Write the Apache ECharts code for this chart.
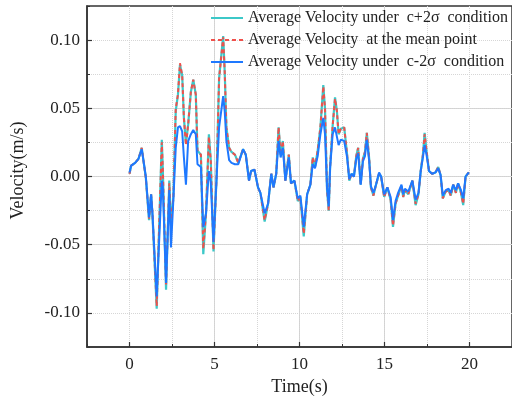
<!DOCTYPE html>
<html><head><meta charset="utf-8">
<script src="https://cdn.jsdelivr.net/npm/echarts@6/dist/echarts.min.js"></script>
<style>html,body{margin:0;padding:0;background:#fff}#c{width:512px;height:401px}</style>
</head><body><div id="c"></div>
<script>
const time = [0.00,0.10,0.33,0.53,0.72,0.96,1.15,1.27,1.35,1.60,1.90,1.96,2.15,2.34,2.44,2.58,2.72,2.85,2.97,3.10,3.20,3.32,3.45,3.61,3.75,3.90,4.00,4.20,4.34,4.50,4.67,4.78,4.94,5.12,5.27,5.51,5.60,5.70,5.86,6.00,6.20,6.40,6.68,6.84,7.03,7.15,7.35,7.56,7.70,7.95,8.15,8.34,8.47,8.63,8.77,8.89,9.02,9.17,9.37,9.50,9.70,9.90,10.05,10.25,10.45,10.64,10.78,10.91,11.07,11.23,11.40,11.50,11.62,11.72,11.80,11.95,12.09,12.20,12.30,12.43,12.63,12.80,12.93,13.06,13.20,13.34,13.45,13.60,13.73,13.85,13.96,14.10,14.20,14.35,14.50,14.68,14.80,14.98,15.17,15.36,15.50,15.65,15.80,16.00,16.10,16.20,16.40,16.64,16.83,17.00,17.13,17.26,17.36,17.47,17.62,17.80,18.00,18.16,18.30,18.43,18.60,18.77,18.90,19.04,19.20,19.33,19.50,19.63,19.77,19.96];
const velPlus = [0.002,0.008,0.010,0.013,0.021,-0.001,-0.032,-0.013,-0.028,-0.097,0.027,0.005,-0.083,-0.003,-0.035,-0.015,0.048,0.060,0.082,0.074,0.043,0.024,0.038,0.062,0.071,0.060,0.019,0.016,-0.057,-0.027,0.031,0.012,-0.055,-0.001,0.072,0.103,0.077,0.036,0.021,0.018,0.016,0.010,0.020,0.016,-0.003,0.004,0.005,-0.008,-0.012,-0.033,-0.020,0.002,-0.008,0.002,0.036,0.016,0.026,-0.003,0.016,-0.005,-0.003,-0.018,-0.015,-0.044,-0.013,-0.006,0.014,0.007,0.019,0.036,0.067,0.050,-0.010,-0.025,0.007,0.037,0.058,0.048,0.031,0.035,0.036,0.016,-0.003,0.002,0.000,0.015,0.021,-0.006,0.013,0.018,0.032,0.013,-0.008,-0.014,-0.006,0.002,0.000,-0.015,-0.008,-0.017,-0.037,-0.020,-0.014,-0.007,-0.015,-0.010,-0.013,-0.003,-0.021,-0.013,0.004,0.016,0.032,0.019,0.004,0.002,0.003,0.007,0.001,-0.016,-0.011,-0.010,-0.014,-0.006,-0.012,-0.005,-0.012,-0.021,0.000,0.003];
const velMean = [0.002,0.008,0.010,0.013,0.021,-0.001,-0.031,-0.013,-0.027,-0.095,0.025,0.005,-0.080,-0.005,-0.037,-0.016,0.050,0.060,0.083,0.074,0.043,0.023,0.038,0.062,0.071,0.060,0.019,0.016,-0.053,-0.027,0.029,0.012,-0.054,-0.001,0.072,0.102,0.077,0.036,0.021,0.018,0.016,0.010,0.020,0.016,-0.003,0.004,0.005,-0.008,-0.012,-0.032,-0.020,0.002,-0.008,0.002,0.036,0.016,0.026,-0.003,0.016,-0.005,-0.003,-0.018,-0.015,-0.042,-0.013,-0.006,0.014,0.007,0.019,0.036,0.066,0.050,-0.010,-0.025,0.007,0.037,0.057,0.048,0.031,0.035,0.036,0.016,-0.003,0.002,0.000,0.015,0.021,-0.006,0.013,0.018,0.032,0.013,-0.008,-0.014,-0.006,0.002,0.000,-0.015,-0.008,-0.017,-0.036,-0.020,-0.014,-0.007,-0.015,-0.010,-0.013,-0.003,-0.020,-0.013,0.004,0.016,0.031,0.019,0.004,0.002,0.003,0.007,0.001,-0.016,-0.011,-0.010,-0.014,-0.006,-0.012,-0.005,-0.012,-0.020,0.000,0.003];
const velMinus = [0.003,0.008,0.010,0.013,0.020,0.000,-0.030,-0.013,-0.027,-0.088,-0.003,-0.008,-0.078,-0.010,-0.052,-0.017,0.021,0.036,0.037,0.033,0.014,-0.006,0.026,0.031,0.034,0.031,0.009,0.007,-0.037,-0.027,0.004,-0.004,-0.048,-0.002,0.036,0.059,0.048,0.026,0.012,0.010,0.009,0.009,0.020,0.016,-0.003,0.004,0.005,-0.008,-0.012,-0.027,-0.020,0.002,-0.008,0.002,0.026,0.014,0.021,-0.003,0.014,-0.005,-0.003,-0.016,-0.014,-0.037,-0.013,-0.006,0.009,0.006,0.015,0.031,0.043,0.031,-0.008,-0.022,0.006,0.031,0.036,0.037,0.023,0.027,0.026,0.014,-0.002,0.002,0.000,0.013,0.017,-0.006,0.011,0.015,0.027,0.011,-0.007,-0.012,-0.006,0.003,0.000,-0.013,-0.008,-0.015,-0.032,-0.018,-0.012,-0.006,-0.013,-0.009,-0.011,-0.003,-0.017,-0.012,0.004,0.014,0.023,0.016,0.004,0.002,0.003,0.006,0.001,-0.014,-0.010,-0.009,-0.012,-0.006,-0.010,-0.005,-0.010,-0.016,0.000,0.003];
const xMajorTicks = [0, 5, 10, 15, 20];
const yMajorTicks = [-0.10, -0.05, 0, 0.05, 0.10];
const seriesNames = ['Average Velocity under  c+2\u03c3  condition', 'Average Velocity  at the mean point', 'Average Velocity under  c-2\u03c3  condition'];
const xTitle = 'Time(s)';
const yTitle = 'Velocity(m/s)';

const FONT = '"Liberation Serif","Times New Roman",serif';
const chart = echarts.init(document.getElementById('c'), null, {renderer: 'canvas'});
const axisColor = '#333';
function pairs(vals) { return time.map((t, i) => [t, vals[i]]); }
const option = {
  animation: false,
  backgroundColor: '#fff',
  grid: {left: 87, top: 6, width: 427, height: 345, show: true, borderColor: axisColor, borderWidth: 1.5, backgroundColor: 'transparent'},
  legend: {
    orient: 'vertical', left: 210, top: 10, padding: 0, itemWidth: 32, itemHeight: 14, itemGap: 6,
    itemStyle: {opacity: 0},
    textStyle: {fontFamily: FONT, fontSize: 16, color: '#222', lineHeight: 16},
    data: seriesNames
  },
  xAxis: [
    {type: 'value', min: -2.5, max: 22.5, position: 'bottom',
     axisLine: {show: true, onZero: false, lineStyle: {color: axisColor, width: 1.5}},
     axisTick: {show: true, inside: true, length: 5, customValues: xMajorTicks, lineStyle: {color: axisColor, width: 1.2}},
     axisLabel: {customValues: xMajorTicks, fontFamily: FONT, fontSize: 17, color: '#222', margin: 9},
     splitLine: {show: true, showMinLine: false, showMaxLine: false, lineStyle: {color: '#d2d2d2', width: 1}},
     name: xTitle, nameLocation: 'middle', nameGap: 31,
     nameTextStyle: {fontFamily: FONT, fontSize: 18, color: '#222'}},
    {type: 'value', min: -2.5, max: 22.5, interval: 2.5, position: 'bottom',
     axisLine: {show: false, onZero: false},
     axisTick: {show: true, inside: true, length: 3, lineStyle: {color: axisColor, width: 1}},
     axisLabel: {show: false},
     splitLine: {show: true, showMinLine: false, showMaxLine: false, lineStyle: {type: 'dotted', color: '#d6d6d6', width: 1}}}
  ],
  yAxis: [
    {type: 'value', min: -0.125, max: 0.125, position: 'left',
     axisLine: {show: true, onZero: false, lineStyle: {color: axisColor, width: 1.5}},
     axisTick: {show: true, inside: true, length: 5, customValues: yMajorTicks, lineStyle: {color: axisColor, width: 1.2}},
     axisLabel: {customValues: yMajorTicks, fontFamily: FONT, fontSize: 17, color: '#222', margin: 7,
                 formatter: v => v.toFixed(2)},
     splitLine: {show: true, showMinLine: false, showMaxLine: false, lineStyle: {color: '#d2d2d2', width: 1}},
     name: yTitle, nameLocation: 'middle', nameGap: 60, nameRotate: 90,
     nameTextStyle: {fontFamily: FONT, fontSize: 18, color: '#222', padding: [0, 0, 0, 12]}},
    {type: 'value', min: -0.125, max: 0.125, interval: 0.025, position: 'left',
     axisLine: {show: false, onZero: false},
     axisTick: {show: true, inside: true, length: 3, lineStyle: {color: axisColor, width: 1}},
     axisLabel: {show: false},
     splitLine: {show: true, showMinLine: false, showMaxLine: false, lineStyle: {type: 'dotted', color: '#d6d6d6', width: 1}}}
  ],
  series: [
    {type: 'line', name: seriesNames[0], data: pairs(velPlus), xAxisIndex: 0, yAxisIndex: 0, symbol: 'none',
     itemStyle: {color: '#3cc8c8'}, lineStyle: {color: '#3cc8c8', width: 2.2}, z: 2},
    {type: 'line', name: seriesNames[1], data: pairs(velMean), xAxisIndex: 0, yAxisIndex: 0, symbol: 'none',
     itemStyle: {color: '#f0504b'}, lineStyle: {color: '#f0504b', width: 2, type: [4, 3]}, z: 3},
    {type: 'line', name: seriesNames[2], data: pairs(velMinus), xAxisIndex: 0, yAxisIndex: 0, symbol: 'none',
     itemStyle: {color: '#1e78ff'}, lineStyle: {color: '#1e78ff', width: 2}, z: 4}
  ]
};
chart.setOption(option);
</script>
</body></html>
